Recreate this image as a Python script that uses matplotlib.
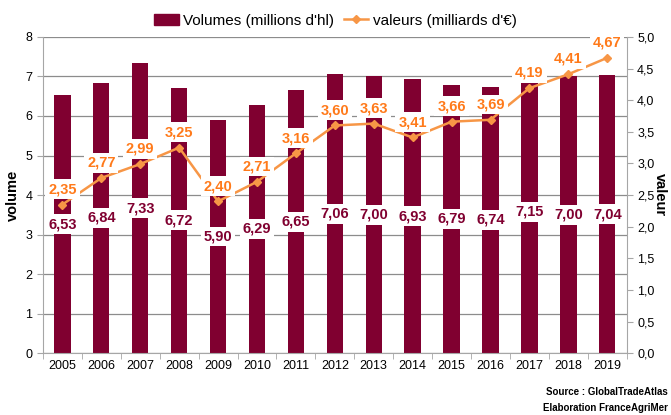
import matplotlib.pyplot as plt
import matplotlib.patches as mpatches
from matplotlib.lines import Line2D
import numpy as np

plt.rcParams['font.family'] = ['Liberation Sans', 'DejaVu Sans']

years = ["2005", "2006", "2007", "2008", "2009", "2010", "2011", "2012",
         "2013", "2014", "2015", "2016", "2017", "2018", "2019"]
volumes = [6.53, 6.84, 7.33, 6.72, 5.90, 6.29, 6.65, 7.06,
           7.00, 6.93, 6.79, 6.74, 7.15, 7.00, 7.04]
valeurs = [2.35, 2.77, 2.99, 3.25, 2.40, 2.71, 3.16, 3.60,
           3.63, 3.41, 3.66, 3.69, 4.19, 4.41, 4.67]

bar_color = "#800030"
line_color = "#F79646"
lab_color = "#FF7A1A"
grid_color = "#8c8c8c"

def fr(v, d=2):
    return f"{v:.{d}f}".replace(".", ",")

fig = plt.figure(figsize=(6.71, 4.15), dpi=100)
ax = fig.add_axes([0.064, 0.149, 0.870, 0.762])
x = np.arange(len(years))

ax.bar(x, volumes, width=0.42, color=bar_color, zorder=2)
ax.set_ylim(0, 8)
ax.set_xlim(-0.5, len(years) - 0.5)
ax.set_yticks(range(0, 9))
ax.yaxis.grid(True, color=grid_color, lw=0.9, zorder=0)
ax.set_axisbelow(True)
ax.set_xticks(x)
ax.set_xticklabels(years, fontsize=9)
ax.set_xticks(np.arange(-0.5, len(years)), minor=True)
ax.tick_params(axis="x", which="major", length=0, pad=5)
ax.tick_params(axis="x", which="minor", length=4, color="#a6a6a6")
ax.tick_params(axis="y", labelsize=9, length=4, color="#a6a6a6")
for s in ["top", "right"]:
    ax.spines[s].set_visible(False)
for s in ["left", "bottom"]:
    ax.spines[s].set_color("#a6a6a6")
ax.set_ylabel("volume", fontsize=10.5, fontweight="bold", labelpad=4)

for xi, v in zip(x, volumes):
    ax.text(xi, v / 2, fr(v), ha="center", va="center", fontsize=10.5,
            fontweight="bold", color=bar_color, zorder=5,
            bbox=dict(boxstyle="square,pad=0.2", fc="white", ec="none"))

ax2 = ax.twinx()
ax2.set_ylim(0, 5)
ax2.set_yticks(np.arange(0, 5.01, 0.5))
ax2.set_yticklabels([fr(t, 1) for t in np.arange(0, 5.01, 0.5)], fontsize=9)
ax2.tick_params(axis="y", length=4, color="#a6a6a6")
for s in ["top", "left", "bottom"]:
    ax2.spines[s].set_visible(False)
ax2.spines["right"].set_color("#a6a6a6")
ax2.plot(x, valeurs, color=line_color, lw=1.8, marker="D", markersize=4,
         zorder=3)
for xi, v in zip(x, valeurs):
    ax2.annotate(fr(v), (xi, v), xytext=(0, 11), textcoords="offset points",
                 ha="center", va="center", fontsize=10.5, fontweight="bold",
                 color=lab_color, zorder=6,
                 bbox=dict(boxstyle="square,pad=0.2", fc="white", ec="none"))
ax2.set_ylabel("valeur", fontsize=10.5, fontweight="bold", rotation=-90,
               labelpad=9)

handles = [mpatches.Patch(color=bar_color, label="Volumes (millions d'hl)"),
           Line2D([], [], color=line_color, lw=1.8, marker="D", markersize=4,
                  label="valeurs (milliards d'€)")]
fig.legend(handles=handles, loc="upper center", bbox_to_anchor=(0.5, 1.0),
           ncol=2, frameon=False, fontsize=11, handlelength=1.6,
           handletextpad=0.3, columnspacing=0.6)

fig.text(0.995, 0.055, "Source : GlobalTradeAtlas", ha="right", va="center",
         fontsize=7, fontweight="bold")
fig.text(0.995, 0.018, "Elaboration FranceAgriMer", ha="right", va="center",
         fontsize=7, fontweight="bold")

fig.savefig("out.png", dpi=100)
